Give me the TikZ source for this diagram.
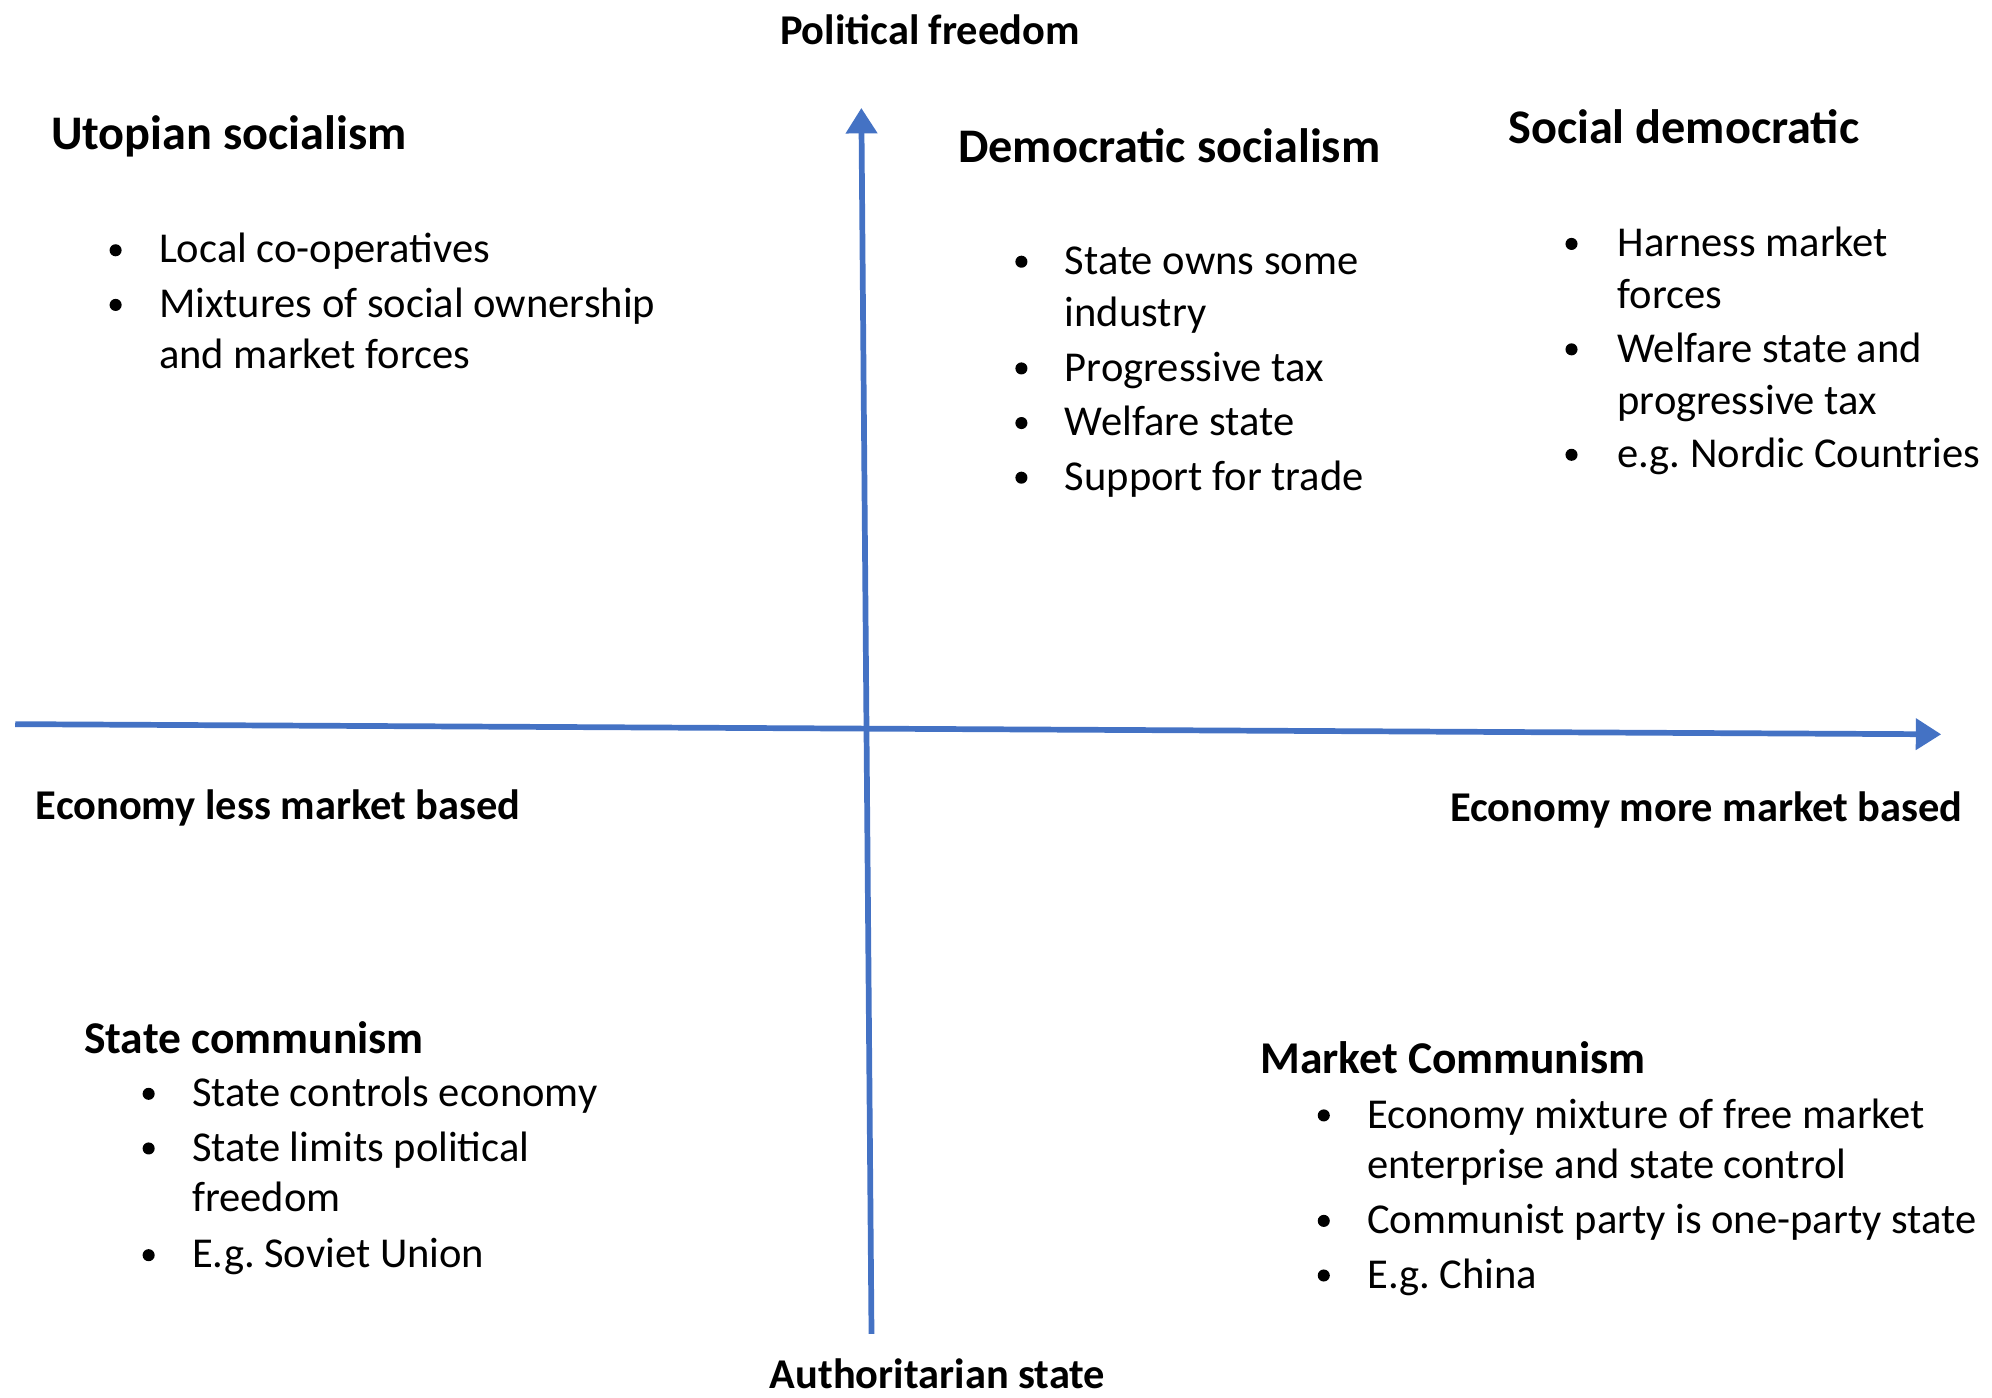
\documentclass[tikz,border=0pt]{standalone}
\usepackage{fontspec}
\setmainfont{Carlito}
\usetikzlibrary{arrows.meta}
\definecolor{axisblue}{HTML}{4472C4}
\frenchspacing
\begin{document}
\begin{tikzpicture}[x=1pt,y=-1pt,
  axis/.style={line width=4.5pt, draw=axisblue, -{Triangle[length=20pt,width=24pt]}},
  headhi/.style={anchor=base west, inner sep=0pt, font=\fontsize{38}{45}\selectfont\bfseries},
  headlo/.style={anchor=base west, inner sep=0pt, font=\fontsize{35.8}{43}\selectfont\bfseries},
  axlab/.style={inner sep=0pt, font=\fontsize{33.4}{40}\selectfont\bfseries},
  itemtxt/.style={anchor=base west, inner sep=0pt, font=\fontsize{33.5}{40}\selectfont},
  dot/.style={circle, fill=black, inner sep=0pt, minimum size=9.5pt}
]
\useasboundingbox (0,0) rectangle (1568,1100);
% axes
\coordinate (hL) at (12,570);
\coordinate (hR) at (1528,578);
\coordinate (vB) at (686,1050);
\coordinate (vT) at (678,85);
\draw[axis] (hL) -- (hR);
\draw[axis] (vB) -- (vT);
% axis labels
\node[axlab, anchor=base] (pf) at (732,35) {Political freedom};
\node[axlab, anchor=base] (as) at (738,1093) {Authoritarian state};
\node[axlab, anchor=base west] (eless) at (28,645) {Economy less market based};
\node[axlab, anchor=base east] (emore) at (1545,647) {Economy more market based};
% Utopian socialism
\node[headhi] (ush) at (40,118) {Utopian socialism};
\node[dot] (ub1) at (91,197) {};
\node[itemtxt] (u1) at (125,207) {Local co-operatives};
\node[dot] (ub2) at (91,240) {};
\node[itemtxt] (u2) at (125,250) {Mixtures of social ownership};
\node[itemtxt] (u2b) at (125,290) {and market forces};
% Democratic socialism
\node[headhi] (dsh) at (754,128) {Democratic socialism};
\node[dot] (db1) at (804,206) {};
\node[itemtxt] (d1) at (838,216) {State owns some};
\node[itemtxt] (d1b) at (838,257) {industry};
\node[dot] (db2) at (804,290) {};
\node[itemtxt] (d2) at (838,300) {Progressive tax};
\node[dot] (db3) at (804,333) {};
\node[itemtxt] (d3) at (838,343) {Welfare state};
\node[dot] (db4) at (804,376) {};
\node[itemtxt] (d4) at (838,386) {Support for trade};
% Social democratic
\node[headhi] (sdh) at (1187,113) {Social democratic};
\node[dot] (sb1) at (1237,192) {};
\node[itemtxt] (s1) at (1273,202) {Harness market};
\node[itemtxt] (s1b) at (1273,243) {forces};
\node[dot] (sb2) at (1237,275) {};
\node[itemtxt] (s2) at (1273,285) {Welfare state and};
\node[itemtxt] (s2b) at (1273,326) {progressive tax};
\node[dot] (sb3) at (1237,358) {};
\node[itemtxt] (s3) at (1273,368) {e.g. Nordic Countries};
% State communism
\node[headlo] (sch) at (66,829) {State communism};
\node[dot] (cb1) at (117,861) {};
\node[itemtxt] (c1) at (151,871) {State controls economy};
\node[dot] (cb2) at (117,904) {};
\node[itemtxt] (c2) at (151,914) {State limits political};
\node[itemtxt] (c2b) at (151,954) {freedom};
\node[dot] (cb3) at (117,988) {};
\node[itemtxt] (c3) at (151,998) {E.g. Soviet Union};
% Market Communism
\node[headlo] (mch) at (992,845) {Market Communism};
\node[dot] (mb1) at (1042,878) {};
\node[itemtxt] (m1) at (1076,888) {Economy mixture of free market};
\node[itemtxt] (m1b) at (1076,928) {enterprise and state control};
\node[dot] (mb2) at (1042,961) {};
\node[itemtxt] (m2) at (1076,971) {Communist party is one-party state};
\node[dot] (mb3) at (1042,1004) {};
\node[itemtxt] (m3) at (1076,1014) {E.g. China};
\end{tikzpicture}
\end{document}
